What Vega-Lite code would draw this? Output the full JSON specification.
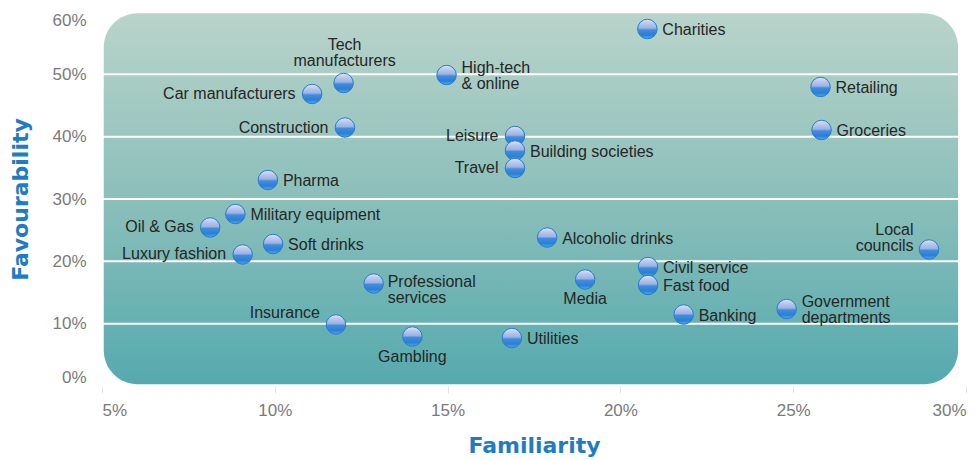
{
  "$schema": "https://vega.github.io/schema/vega-lite/v6.json",
  "width": 864,
  "height": 374,
  "autosize": {"type": "none"},
  "padding": {"left": 102, "top": 12, "right": 9, "bottom": 74},
  "background": "white",
  "config": {
    "view": {"stroke": null},
    "axis": {
      "domain": false,
      "grid": false,
      "labelFont": "Liberation Sans",
      "labelFontSize": 17,
      "labelColor": "#7a7a7a",
      "titleFont": "DejaVu Sans",
      "titleFontWeight": "bold",
      "titleColor": "#1f7cc4",
      "titleFontSize": 22
    },
    "text": {"font": "Liberation Sans", "fontSize": 16, "color": "#262626", "lineBreak": "\n", "lineHeight": 16, "baseline": "middle"}
  },
  "datasets": {
    "sectors": [
      {"sector": "Charities", "familiarity": 20.78, "favourability": 57.27},
      {"sector": "Tech\nmanufacturers", "familiarity": 11.99, "favourability": 48.61},
      {"sector": "Car manufacturers", "familiarity": 11.08, "favourability": 46.85},
      {"sector": "High-tech\n& online", "familiarity": 14.97, "favourability": 49.89},
      {"sector": "Construction", "familiarity": 12.03, "favourability": 41.47},
      {"sector": "Leisure", "familiarity": 16.95, "favourability": 40.11},
      {"sector": "Building societies", "familiarity": 16.95, "favourability": 37.78},
      {"sector": "Travel", "familiarity": 16.95, "favourability": 34.97},
      {"sector": "Pharma", "familiarity": 9.8, "favourability": 33.05},
      {"sector": "Military equipment", "familiarity": 8.86, "favourability": 27.59},
      {"sector": "Oil & Gas", "familiarity": 8.13, "favourability": 25.43},
      {"sector": "Soft drinks", "familiarity": 9.95, "favourability": 22.78},
      {"sector": "Luxury fashion", "familiarity": 9.07, "favourability": 21.1},
      {"sector": "Alcoholic drinks", "familiarity": 17.88, "favourability": 23.82},
      {"sector": "Local\ncouncils", "familiarity": 28.93, "favourability": 21.9},
      {"sector": "Civil service", "familiarity": 20.8, "favourability": 19.09},
      {"sector": "Fast food", "familiarity": 20.8, "favourability": 16.2},
      {"sector": "Media", "familiarity": 18.98, "favourability": 17.09},
      {"sector": "Professional\nservices", "familiarity": 12.86, "favourability": 16.44},
      {"sector": "Banking", "familiarity": 21.83, "favourability": 11.47},
      {"sector": "Government\ndepartments", "familiarity": 24.81, "favourability": 12.35},
      {"sector": "Insurance", "familiarity": 11.77, "favourability": 9.87},
      {"sector": "Gambling", "familiarity": 13.98, "favourability": 7.94},
      {"sector": "Utilities", "familiarity": 16.86, "favourability": 7.7},
      {"sector": "Retailing", "familiarity": 25.79, "favourability": 47.97},
      {"sector": "Groceries", "familiarity": 25.82, "favourability": 41.07}
    ],
    "gridlines": [
      {"level": 10}, {"level": 20}, {"level": 30}, {"level": 40}, {"level": 50}
    ]
  },
  "layer": [
    {
      "data": {"values": [{}]},
      "mark": {
        "type": "rect",
        "cornerRadius": 34,
        "fill": {
          "gradient": "linear", "x1": 0, "y1": 0, "x2": 0, "y2": 1,
          "stops": [
            {"offset": 0, "color": "#b9d4ca"},
            {"offset": 0.5, "color": "#8bbfba"},
            {"offset": 1, "color": "#55aaae"}
          ]
        }
      },
      "encoding": {
        "x": {"datum": 5.05, "type": "quantitative", "scale": {"domain": [5, 30], "nice": false, "zero": false}, "title": "Familiarity"},
        "x2": {"datum": 29.77},
        "y": {"datum": 0.3, "type": "quantitative", "scale": {"domain": [0, 60], "nice": false, "zero": false}, "title": "Favourability"},
        "y2": {"datum": 59.8}
      }
    },
    {
      "data": {"name": "gridlines"},
      "mark": {"type": "rule", "color": "white", "strokeWidth": 2},
      "encoding": {
        "y": {"field": "level", "type": "quantitative", "scale": {"domain": [0, 60], "nice": false, "zero": false}, "title": "Favourability"}
      }
    },
    {
      "data": {"name": "sectors"},
      "mark": {
        "type": "point",
        "shape": "circle",
        "filled": true,
        "size": 380,
        "opacity": 1,
        "stroke": "#2a7bcc",
        "strokeWidth": 1,
        "fill": {
          "gradient": "linear", "x1": 0, "y1": 0, "x2": 0, "y2": 1,
          "stops": [
            {"offset": 0, "color": "#dfe6f7"},
            {"offset": 0.2, "color": "#bccaec"},
            {"offset": 0.45, "color": "#9db3e4"},
            {"offset": 0.55, "color": "#428cde"},
            {"offset": 0.8, "color": "#2880d5"},
            {"offset": 1, "color": "#55a7ee"}
          ]
        }
      },
      "encoding": {
        "x": {
          "field": "familiarity", "type": "quantitative",
          "scale": {"domain": [5, 30], "nice": false, "zero": false},
          "title": "Familiarity",
          "axis": {
            "values": [5, 10, 15, 20, 25, 30],
            "labelExpr": "datum.value + '%'",
            "labelFlush": true,
            "ticks": true,
            "tickColor": "#e4e4e4",
            "tickSize": 7,
            "labelPadding": 9,
            "titlePadding": 17
          }
        },
        "y": {
          "field": "favourability", "type": "quantitative",
          "scale": {"domain": [0, 60], "nice": false, "zero": false},
          "title": "Favourability",
          "axis": {
            "values": [0, 10, 20, 30, 40, 50, 60],
            "labelExpr": "datum.value + '%'",
            "labelFlush": true,
            "ticks": false,
            "tickSize": 0,
            "labelPadding": 16,
            "titlePadding": 19
          }
        }
      }
    },
    {
      "data": {"name": "sectors"},
      "transform": [{"filter": {"field": "sector", "oneOf": ["Charities", "Retailing", "Groceries", "Civil service", "Fast food", "Banking", "Building societies", "Pharma", "Military equipment", "Soft drinks", "Alcoholic drinks", "Utilities"]}}],
      "mark": {"type": "text", "align": "left", "dx": 15, "dy": 1},
      "encoding": {
        "x": {"field": "familiarity", "type": "quantitative", "scale": {"domain": [5, 30], "nice": false, "zero": false}, "title": "Familiarity"},
        "y": {"field": "favourability", "type": "quantitative", "scale": {"domain": [0, 60], "nice": false, "zero": false}, "title": "Favourability"},
        "text": {"field": "sector"}
      }
    },
    {
      "data": {"name": "sectors"},
      "transform": [{"filter": {"field": "sector", "oneOf": ["Government\ndepartments", "High-tech\n& online"]}}],
      "mark": {"type": "text", "align": "left", "dx": 15, "dy": -7.5},
      "encoding": {
        "x": {"field": "familiarity", "type": "quantitative", "scale": {"domain": [5, 30], "nice": false, "zero": false}, "title": "Familiarity"},
        "y": {"field": "favourability", "type": "quantitative", "scale": {"domain": [0, 60], "nice": false, "zero": false}, "title": "Favourability"},
        "text": {"field": "sector"}
      }
    },
    {
      "data": {"name": "sectors"},
      "transform": [{"filter": {"field": "sector", "oneOf": ["Professional\nservices"]}}],
      "mark": {"type": "text", "align": "left", "dx": 14, "dy": -1.5},
      "encoding": {
        "x": {"field": "familiarity", "type": "quantitative", "scale": {"domain": [5, 30], "nice": false, "zero": false}, "title": "Familiarity"},
        "y": {"field": "favourability", "type": "quantitative", "scale": {"domain": [0, 60], "nice": false, "zero": false}, "title": "Favourability"},
        "text": {"field": "sector"}
      }
    },
    {
      "data": {"name": "sectors"},
      "transform": [{"filter": {"field": "sector", "oneOf": ["Car manufacturers", "Construction", "Leisure", "Travel", "Oil & Gas", "Luxury fashion"]}}],
      "mark": {"type": "text", "align": "right", "dx": -16.5, "dy": 0},
      "encoding": {
        "x": {"field": "familiarity", "type": "quantitative", "scale": {"domain": [5, 30], "nice": false, "zero": false}, "title": "Familiarity"},
        "y": {"field": "favourability", "type": "quantitative", "scale": {"domain": [0, 60], "nice": false, "zero": false}, "title": "Favourability"},
        "text": {"field": "sector"}
      }
    },
    {
      "data": {"name": "sectors"},
      "transform": [{"filter": {"field": "sector", "oneOf": ["Insurance"]}}],
      "mark": {"type": "text", "align": "right", "dx": -16, "dy": -11.5},
      "encoding": {
        "x": {"field": "familiarity", "type": "quantitative", "scale": {"domain": [5, 30], "nice": false, "zero": false}, "title": "Familiarity"},
        "y": {"field": "favourability", "type": "quantitative", "scale": {"domain": [0, 60], "nice": false, "zero": false}, "title": "Favourability"},
        "text": {"field": "sector"}
      }
    },
    {
      "data": {"name": "sectors"},
      "transform": [{"filter": {"field": "sector", "oneOf": ["Local\ncouncils"]}}],
      "mark": {"type": "text", "align": "right", "dx": -15.5, "dy": -19.5},
      "encoding": {
        "x": {"field": "familiarity", "type": "quantitative", "scale": {"domain": [5, 30], "nice": false, "zero": false}, "title": "Familiarity"},
        "y": {"field": "favourability", "type": "quantitative", "scale": {"domain": [0, 60], "nice": false, "zero": false}, "title": "Favourability"},
        "text": {"field": "sector"}
      }
    },
    {
      "data": {"name": "sectors"},
      "transform": [{"filter": {"field": "sector", "oneOf": ["Tech\nmanufacturers"]}}],
      "mark": {"type": "text", "align": "center", "dx": 1, "dy": -37.5},
      "encoding": {
        "x": {"field": "familiarity", "type": "quantitative", "scale": {"domain": [5, 30], "nice": false, "zero": false}, "title": "Familiarity"},
        "y": {"field": "favourability", "type": "quantitative", "scale": {"domain": [0, 60], "nice": false, "zero": false}, "title": "Favourability"},
        "text": {"field": "sector"}
      }
    },
    {
      "data": {"name": "sectors"},
      "transform": [{"filter": {"field": "sector", "oneOf": ["Media", "Gambling"]}}],
      "mark": {"type": "text", "align": "center", "dx": 0, "dy": 20},
      "encoding": {
        "x": {"field": "familiarity", "type": "quantitative", "scale": {"domain": [5, 30], "nice": false, "zero": false}, "title": "Familiarity"},
        "y": {"field": "favourability", "type": "quantitative", "scale": {"domain": [0, 60], "nice": false, "zero": false}, "title": "Favourability"},
        "text": {"field": "sector"}
      }
    }
  ]
}
